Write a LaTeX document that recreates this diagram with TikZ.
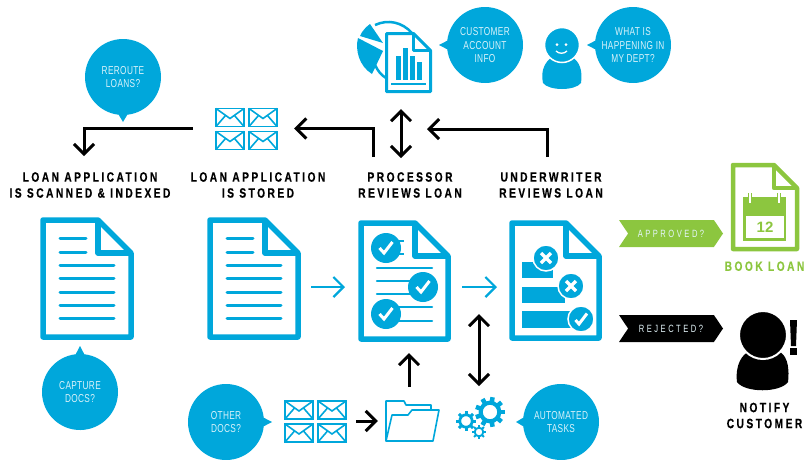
\documentclass[tikz,border=0pt]{standalone}
\usepackage{fontspec}
\usepackage{xcolor}
\usetikzlibrary{positioning}
\usetikzlibrary{shapes.symbols,shapes.callouts}
\usetikzlibrary{arrows.meta}
\newfontfamily\bubblefont[FakeStretch=0.72,LetterSpace=3]{Liberation Sans}
\newfontfamily\headfont[FakeStretch=0.76,LetterSpace=18,BoldFeatures={FakeBold=0.4}]{Liberation Sans}
\newfontfamily\bannerfont[FakeStretch=0.72,LetterSpace=24]{Liberation Sans}
\definecolor{loanblue}{HTML}{00A7DB}
\definecolor{loangreen}{HTML}{8CC63F}
\tikzset{>={Straight Barb[length=10pt,width=20pt]}}
\newcommand{\pagesheet}[5]{
	\draw[fill=white,line join=round] (#1,#2) -- ({#3-#5},#2) -- (#3,{#2+#5}) -- (#3,#4) -- (#1,#4) -- cycle;
	\draw[line join=round] ({#3-#5},#2) -- ({#3-#5},{#2+#5}) -- (#3,{#2+#5});
}
\newcommand{\checkdot}[2]{
	\fill[loanblue] (#1,#2) circle (15);
	\draw[white,line width=3pt] (#1-6.5,#2) -- (#1-2,#2+5) -- (#1+6.5,#2-6);
}
\newcommand{\ringdot}[2]{
	\filldraw[fill=loanblue,draw=white,line width=1.5pt] (#1,#2) circle (13);
}
\newcommand{\gearwheel}[4]{
	\begin{scope}[shift={(#1,#2)},loanblue]
		\draw[line width=0.27*#3 pt] (0,0) circle (0.62*#3);
		\foreach \a in {0,#4,...,359}
			\draw[line width=0.3*#3 pt] (\a:0.7*#3) -- (\a:#3);
	\end{scope}
}
\tikzset{
	pics/envelope/.style={code={
		\draw[loanblue,line width=1.6pt] (0,0) rectangle (28,18);
		\draw[loanblue,line width=1.6pt] (0,0) -- (14,10) -- (28,0);
		\draw[loanblue,line width=1.6pt] (0,18) -- (9.5,7);
		\draw[loanblue,line width=1.6pt] (28,18) -- (18.5,7);
	}},
	pics/mailgrid/.style={code={
		\foreach \mx/\my in {-30/-20,3/-20,-30/3,3/3}
			\pic at (\mx,\my) {envelope};
	}},
	pics/textsheet/.style={code={
		\begin{scope}[loanblue,line width=5.5pt]
			\pagesheet{-44}{-58.5}{44}{58.5}{33}
		\end{scope}
		\foreach \ly in {-40.5,-26.5}
			\draw[loanblue,line width=3pt,line cap=round] (-27,\ly) -- (-1,\ly);
		\foreach \ly in {-13.5,-0.5,13.5,26.5,39.5}
			\draw[loanblue,line width=3pt,line cap=round] (-27,\ly) -- (27,\ly);
	}}
}
\begin{document}
\begin{tikzpicture}
	[x=1pt,y=-1pt,
	bubble/.style={ellipse callout,fill=loanblue,text=white!85!loanblue,inner sep=-8pt,minimum width=76pt,minimum height=76pt,callout pointer arc=13,align=center,text depth=-4pt,font=\bubblefont\fontsize{11.5}{13.5}\selectfont},
	slot/.style={inner sep=0pt},
	heading/.style={align=center,inner sep=0pt,font=\headfont\bfseries\fontsize{13.5}{16}\selectfont},
	banner/.style={signal,signal to=east,signal from=west,signal pointer angle=112,minimum width=104pt,minimum height=27pt,inner sep=0pt,text=white!90!loanblue,font=\bannerfont\fontsize{10.5}{11}\selectfont}]
	\useasboundingbox (0,0) rectangle (804,459);

	\node [slot,minimum width=94pt,minimum height=123pt] (scanDoc) at (87,278.5) {};
	\node [slot,minimum width=94pt,minimum height=123pt] (storedDoc) at (254,278.5) {};
	\node [slot,minimum width=93pt,minimum height=122pt] (procDoc) at (404.5,281) {};
	\node [slot,minimum width=93pt,minimum height=121pt] (underDoc) at (555.5,280.5) {};
	\node [slot,minimum width=62pt,minimum height=42pt] (topMail) at (246,128.5) {};
	\node [slot,minimum width=62pt,minimum height=42pt] (lowMail) at (315,421) {};
	\node [slot,minimum width=54pt,minimum height=41pt] (folder) at (412,421) {};
	\node [slot,minimum width=50pt,minimum height=40pt] (gears) at (478,419) {};
	\node [slot,minimum width=68pt,minimum height=88pt] (bookDoc) at (765,207) {};
	\node [slot,minimum width=60pt,minimum height=78pt] (customer) at (765,351) {};
	\node [slot,minimum width=76pt,minimum height=72pt] (chart) at (394,57) {};

	\pic at (scanDoc) {textsheet};
	\pic at (storedDoc) {textsheet};
	\pic at (topMail) {mailgrid};
	\pic at (lowMail) {mailgrid};

	\begin{scope}[loanblue,line width=5.5pt]
		\pagesheet{361}{223}{448}{339}{33}
		\pagesheet{512}{223}{599}{338}{33}
	\end{scope}
	\foreach \ly in {268,281,294,307,321}
		\draw[loanblue,line width=2.5pt,line cap=round] (377,\ly) -- (432,\ly);
	\foreach \ly in {241,254}
		\draw[loanblue,line width=2.5pt] (390,\ly) -- (404,\ly);
	\checkdot{386}{248}
	\checkdot{423}{287}
	\checkdot{386}{314}

	\fill[loanblue] (522,262) rectangle (553,278);
	\fill[loanblue] (522,287) rectangle (565,303);
	\fill[loanblue] (522,311) rectangle (575,328);
	\foreach \cx/\cy in {546/258,571/286} {
		\ringdot{\cx}{\cy}
		\draw[white,line width=3.2pt] (\cx-5,\cy-5) -- (\cx+5,\cy+5);
		\draw[white,line width=3.2pt] (\cx-5,\cy+5) -- (\cx+5,\cy-5);
	}
	\ringdot{581}{319}
	\draw[white,line width=3pt] (575.5,320) -- (579,324) -- (587,313.5);

	\begin{scope}[loangreen,line width=4.5pt]
		\pagesheet{733}{165}{797}{249}{23}
	\end{scope}
	\fill[loangreen] (743,197) rectangle (786,241);
	\fill[white] (745.5,216) rectangle (783.5,238);
	\foreach \rx in {750,779} {
		\draw[white,line width=3.2pt] (\rx,193) -- (\rx,203);
		\draw[loangreen,line width=1pt] (\rx-1.6,193) -- (\rx-1.6,203) -- (\rx+1.6,203) -- (\rx+1.6,193);
	}
	\node [slot,text=loangreen,font=\fontspec{Liberation Sans}\bfseries\fontsize{15}{15}\selectfont] (bookDay) at (765,227) {12};

	\fill[black] (737,382) .. controls (735,365) and (742,354) .. (750,351) -- (778,351) .. controls (786,354) and (790,365) .. (788,382) .. controls (780,393) and (745,393) .. cycle;
	\filldraw[fill=black,draw=white,line width=2pt] (763,335) circle (24);
	\fill[black] (790,320) -- (797,320) -- (796,346) -- (791,346) -- cycle;
	\fill[black] (790,348) rectangle (797,355);

	\draw[loanblue,line width=2.5pt] (375,25) .. controls (388,19) and (402,22) .. (412,33);
	\draw[loanblue,line width=2.5pt] (375,65) .. controls (378,71) and (381,75) .. (386,78);
	\fill[loanblue] (383,43) -- (370,24) .. controls (366,27) and (362,31) .. (360,36) -- cycle;
	\fill[loanblue] (383,51) -- (358,38) .. controls (355,50) and (359,66) .. (372,74) -- cycle;
	\begin{scope}[loanblue,line width=3pt]
		\pagesheet{386.5}{33.5}{430.5}{91.5}{17}
	\end{scope}
	\foreach \bx/\by in {396/56,403/48,410/56,417/62}
		\fill[loanblue] (\bx,\by) rectangle (\bx+5.3,80);
	\draw[loanblue,line width=1.5pt] (391,84) -- (426,84);

	\fill[loanblue] (543,83) .. controls (540,70) and (546,61) .. (552,57) -- (572,57) .. controls (579,61) and (583,70) .. (581,83) .. controls (575,91) and (549,91) .. cycle;
	\filldraw[fill=loanblue,draw=white,line width=1.5pt] (562,45) circle (17.5);
	\fill[white] (557,44.5) circle (1.5);
	\fill[white] (566,44.5) circle (1.5);
	\draw[white,line width=1.3pt] (556,51) .. controls (559,54) and (564,54) .. (567,51);

	\begin{scope}[loanblue,line width=1.6pt,line join=round]
		\draw (386,441) -- (386,401) -- (404,401) -- (406,405) -- (431,405) -- (431,410);
		\draw[fill=white] (439,410) -- (412,410) -- (408,415) -- (392,415) -- (386,441) -- (433,441) -- cycle;
	\end{scope}
	\gearwheel{490}{412}{15}{40}
	\gearwheel{466}{421}{10}{45}
	\gearwheel{479}{432}{7}{45}

	\node [bubble,callout absolute pointer={(123,122)}] (reroute) at (123,77) {REROUTE\\LOANS?};
	\node [bubble,callout absolute pointer={(80,346)}] (capture) at (80,392) {CAPTURE\\DOCS?};
	\node [bubble,callout absolute pointer={(272,422)}] (otherDocs) at (226,422) {OTHER\\DOCS?};
	\node [bubble,callout absolute pointer={(516,422)}] (tasks) at (561,422) {AUTOMATED\\TASKS};
	\node [bubble,callout absolute pointer={(439,45)}] (account) at (485,45) {CUSTOMER\\ACCOUNT\\INFO};
	\node [bubble,callout absolute pointer={(587,45)}] (dept) at (633,45) {WHAT IS\\HAPPENING IN\\MY DEPT?};

	\node [heading] (scanHead) at (90,185) {LOAN APPLICATION\\IS SCANNED \& INDEXED};
	\node [heading] (storedHead) at (258,185) {LOAN APPLICATION\\IS STORED};
	\node [heading] (procHead) at (410,185) {PROCESSOR\\REVIEWS LOAN};
	\node [heading] (underHead) at (551,185) {UNDERWRITER\\REVIEWS LOAN};
	\node [heading,text=loangreen,xshift=-0.5pt] (bookHead) [below=10pt of bookDoc] {BOOK LOAN};
	\node [heading] (notifyHead) at (764.5,415.5) {NOTIFY\\CUSTOMER};

	\node [banner,fill=loangreen] (approved) at (671,233.5) {APPROVED?};
	\node [banner,fill=black] (rejected) at (671,328.5) {REJECTED?};

	\coordinate (scanIn) at (84,156);
	\coordinate (procOut) at (373,157);
	\coordinate (underOut) at (547,157);
	\coordinate (procGap) at (427,129);
	\coordinate (chartFoot) at (401,109);
	\coordinate (procFoot) at (401,158);
	\coordinate (storedOut) at (311,287);
	\coordinate (procIn) at (345,287);
	\coordinate (procOutB) at (462,287);
	\coordinate (underIn) at (497,287);
	\coordinate (folderTop) at (409,387);
	\coordinate (procLow) at (409,353);
	\coordinate (gearsTop) at (479,386);
	\coordinate (underLow) at (479,314);

	\draw[->,line width=3pt,shorten <=22pt] (topMail.west) -| (scanIn);
	\draw[->,line width=3pt,shorten >=17pt] (procOut) |- (topMail.east);
	\draw[->,line width=3pt] (underOut) |- (procGap);
	\draw[<->,line width=3pt] (chartFoot) -- (procFoot);
	\draw[->,loanblue,line width=2.2pt] (storedOut) -- (procIn);
	\draw[->,loanblue,line width=2.2pt] (procOutB) -- (underIn);
	\draw[->,line width=3pt] (folderTop) -- (procLow);
	\draw[<->,line width=3pt] (gearsTop) -- (underLow);
	\draw[->,line width=3pt,shorten <=10pt,shorten >=7pt] (lowMail.east) -- (folder.west);
\end{tikzpicture}
\end{document}
